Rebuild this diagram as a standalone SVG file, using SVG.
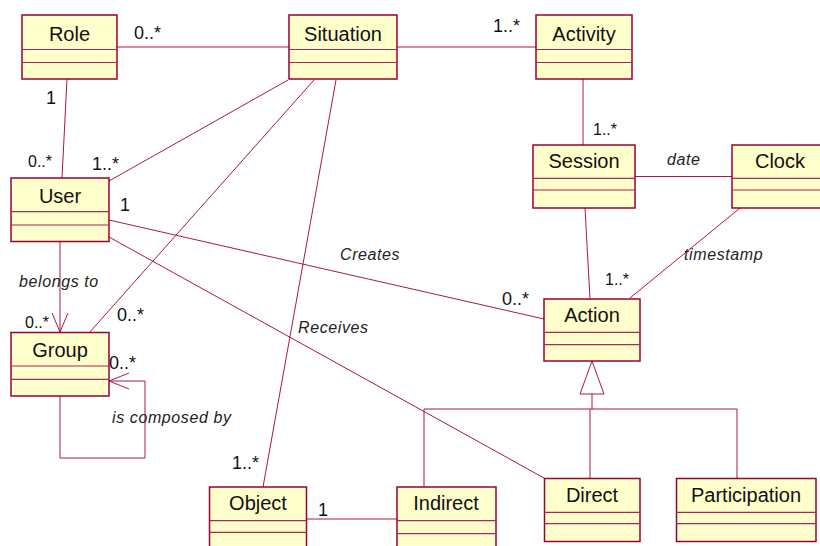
<svg xmlns="http://www.w3.org/2000/svg" width="820" height="546" viewBox="0 0 820 546">
<style>
.box{fill:#FFFFCC;stroke:#990033;stroke-width:1.5}
.div{stroke:#A8285A;stroke-width:1.2}
.name{font-family:"Liberation Sans",Arial,sans-serif;font-size:20px;fill:#111;text-anchor:middle}
.c{fill:none;stroke:#A8174C;stroke-width:1}
.m{font-family:"Liberation Sans",Arial,sans-serif;font-size:18px;fill:#111}
.ms{font-family:"Liberation Sans",Arial,sans-serif;font-size:16px;fill:#111}
.it{font-family:"Liberation Sans",Arial,sans-serif;font-size:16px;font-style:italic;fill:#222;letter-spacing:0.6px}
</style>
<rect width="820" height="546" fill="#fff"/>
<g id="connectors">
  <line class="c" x1="117" y1="47" x2="289" y2="47"/>
  <line class="c" x1="397" y1="47" x2="536" y2="47"/>
  <line class="c" x1="67" y1="79" x2="62" y2="178"/>
  <line class="c" x1="288" y1="80" x2="109" y2="181"/>
  <line class="c" x1="314" y1="80" x2="89" y2="333"/>
  <line class="c" x1="336" y1="80" x2="263" y2="487"/>
  <line class="c" x1="583" y1="79" x2="583" y2="145"/>
  <line class="c" x1="635" y1="176.5" x2="732" y2="176.5"/>
  <line class="c" x1="585" y1="208" x2="590" y2="299"/>
  <line class="c" x1="740" y1="208" x2="630" y2="298"/>
  <line class="c" x1="109" y1="220" x2="544" y2="319"/>
  <line class="c" x1="109" y1="237" x2="544" y2="478"/>
  <line class="c" x1="60" y1="242" x2="60" y2="332"/>
  <polyline class="c" points="52,313 60,332 68,313"/>
  <polyline class="c" points="109,381 145,381 145,458 60,458 60,396"/>
  <polyline class="c" points="129,373 109,381 129,389"/>
  <line class="c" x1="307" y1="519" x2="397" y2="519"/>
  <polygon points="592,361 580,394 604,394" fill="#fff" stroke="#A8174C" stroke-width="1"/>
  <line class="c" x1="592" y1="394" x2="592" y2="409"/>
  <line class="c" x1="424" y1="409" x2="737" y2="409"/>
  <line class="c" x1="424" y1="409" x2="424" y2="487"/>
  <line class="c" x1="590" y1="409" x2="590" y2="478"/>
  <line class="c" x1="737" y1="409" x2="737" y2="478"/>
</g>
<g id="labels">
  <text class="m" x="134" y="39">0..*</text>
  <text class="m" x="493" y="32">1..*</text>
  <text class="m" x="46" y="104">1</text>
  <text class="ms" x="28" y="167">0..*</text>
  <text class="m" x="92" y="170">1..*</text>
  <text class="m" x="120" y="211">1</text>
  <text class="ms" x="593" y="135">1..*</text>
  <text class="it" x="667" y="165">date</text>
  <text class="it" x="340" y="260">Creates</text>
  <text class="it" x="19" y="287">belongs to</text>
  <text class="ms" x="25" y="328">0..*</text>
  <text class="m" x="117" y="321">0..*</text>
  <text class="it" x="298" y="333">Receives</text>
  <text class="m" x="109" y="369">0..*</text>
  <text class="it" x="684" y="260">timestamp</text>
  <text class="ms" x="605" y="285">1..*</text>
  <text class="m" x="502" y="305">0..*</text>
  <text class="it" x="112" y="423">is composed by</text>
  <text class="m" x="232" y="469">1..*</text>
  <text class="m" x="318" y="516">1</text>
</g>
<g id="Role">
  <rect class="box" x="22" y="15" width="95" height="64"/>
  <line class="div" x1="22" y1="49.5" x2="117" y2="49.5"/><line class="div" x1="22" y1="62.5" x2="117" y2="62.5"/>
  <text class="name" x="69.5" y="40.5">Role</text>
</g>
<g id="Situation">
  <rect class="box" x="289" y="15" width="108" height="64"/>
  <line class="div" x1="289" y1="49.5" x2="397" y2="49.5"/><line class="div" x1="289" y1="62.5" x2="397" y2="62.5"/>
  <text class="name" x="343" y="40.5">Situation</text>
</g>
<g id="Activity">
  <rect class="box" x="536" y="15" width="96" height="64"/>
  <line class="div" x1="536" y1="49.5" x2="632" y2="49.5"/><line class="div" x1="536" y1="62.5" x2="632" y2="62.5"/>
  <text class="name" x="584" y="40.5">Activity</text>
</g>
<g id="Session">
  <rect class="box" x="533" y="145" width="102" height="63"/>
  <line class="div" x1="533" y1="178.3" x2="635" y2="178.3"/><line class="div" x1="533" y1="190" x2="635" y2="190"/>
  <text class="name" x="584" y="168">Session</text>
</g>
<g id="Clock">
  <rect class="box" x="732" y="145" width="96" height="63"/>
  <line class="div" x1="732" y1="178.3" x2="828" y2="178.3"/><line class="div" x1="732" y1="190" x2="828" y2="190"/>
  <text class="name" x="780" y="168">Clock</text>
</g>
<g id="User">
  <rect class="box" x="11" y="178" width="98" height="63.5"/>
  <line class="div" x1="11" y1="211.7" x2="109" y2="211.7"/><line class="div" x1="11" y1="225" x2="109" y2="225"/>
  <text class="name" x="60" y="203">User</text>
</g>
<g id="Group">
  <rect class="box" x="11" y="332.5" width="98" height="63.5"/>
  <line class="div" x1="11" y1="366" x2="109" y2="366"/><line class="div" x1="11" y1="379.3" x2="109" y2="379.3"/>
  <text class="name" x="60" y="357">Group</text>
</g>
<g id="Action">
  <rect class="box" x="544" y="299" width="96" height="62"/>
  <line class="div" x1="544" y1="332.3" x2="640" y2="332.3"/><line class="div" x1="544" y1="344.7" x2="640" y2="344.7"/>
  <text class="name" x="592" y="322">Action</text>
</g>
<g id="Object">
  <rect class="box" x="209.5" y="487" width="97" height="70"/>
  <line class="div" x1="209.5" y1="520.7" x2="306.5" y2="520.7"/><line class="div" x1="209.5" y1="532.3" x2="306.5" y2="532.3"/>
  <text class="name" x="258" y="510">Object</text>
</g>
<g id="Indirect">
  <rect class="box" x="397" y="487" width="99" height="70"/>
  <line class="div" x1="397" y1="520.7" x2="496" y2="520.7"/><line class="div" x1="397" y1="533.7" x2="496" y2="533.7"/>
  <text class="name" x="446" y="510">Indirect</text>
</g>
<g id="Direct">
  <rect class="box" x="544.5" y="478.5" width="95.5" height="63"/>
  <line class="div" x1="544.5" y1="512.3" x2="640" y2="512.3"/><line class="div" x1="544.5" y1="523.7" x2="640" y2="523.7"/>
  <text class="name" x="592" y="502">Direct</text>
</g>
<g id="Participation">
  <rect class="box" x="676.5" y="478.5" width="139.5" height="63"/>
  <line class="div" x1="676.5" y1="512.3" x2="816" y2="512.3"/><line class="div" x1="676.5" y1="523.7" x2="816" y2="523.7"/>
  <text class="name" x="746" y="502">Participation</text>
</g>
</svg>
